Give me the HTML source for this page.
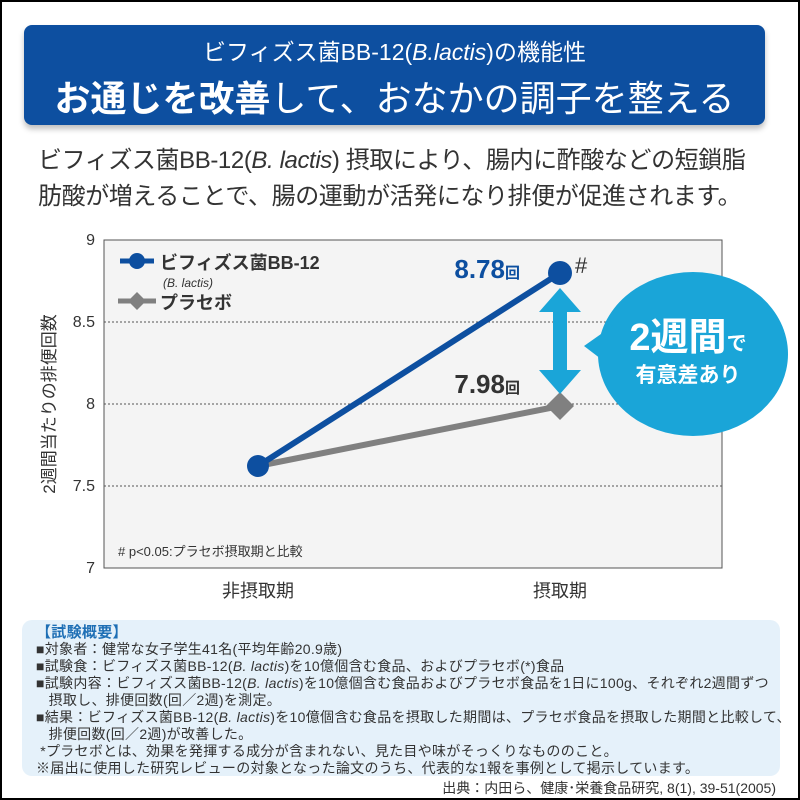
<!DOCTYPE html>
<html><head><meta charset="utf-8"><style>
body{margin:0;width:800px;height:800px;overflow:hidden;background:#fff;font-family:"Liberation Sans","Noto Sans CJK JP",sans-serif;}
.frame{position:absolute;left:0;top:0;width:796px;height:796px;border:2px solid #000;}
.hdr{position:absolute;left:24px;top:25px;width:741px;height:100px;background:#0d4fa0;border-radius:8px;box-shadow:0 4px 6px rgba(0,0,0,.25);color:#fff;text-align:center;}
.t1{position:absolute;top:8px;width:100%;font-size:23px;}
.t2{position:absolute;top:45px;width:100%;font-size:36px;}
.lead{position:absolute;left:38px;top:143px;font-size:24px;letter-spacing:-0.4px;color:#333;line-height:36px;white-space:nowrap;}
.note{position:absolute;left:22px;top:620px;width:758px;height:156px;background:#e5f1fa;border-radius:10px;}
.nt{position:absolute;left:36px;top:624px;font-size:14px;letter-spacing:0.3px;color:#333;line-height:17px;white-space:nowrap;}
.src{position:absolute;right:24px;top:778px;font-size:14px;color:#333;}
</style></head><body>
<div class="frame"></div>
<div class="hdr"><div class="t1">ビフィズス菌BB-12(<i>B.lactis</i>)の機能性</div>
<div class="t2"><b>お通じを改善</b>して、おなかの調子を整える</div></div>
<div class="lead">ビフィズス菌BB-12(<i>B. lactis</i>) 摂取により、腸内に酢酸などの短鎖脂<br>肪酸が増えることで、腸の運動が活発になり排便が促進されます。</div>
<svg width="800" height="800" style="position:absolute;left:0;top:0">
<rect x="104" y="240" width="618" height="328" fill="#f4f4f4" stroke="#555" stroke-width="1"/>
<g stroke="#555" stroke-dasharray="2,2" stroke-width="1">
<line x1="104" y1="322" x2="722" y2="322"/><line x1="104" y1="404" x2="722" y2="404"/><line x1="104" y1="486" x2="722" y2="486"/></g>
<g font-size="16" fill="#333" text-anchor="end">
<text x="95" y="245">9</text><text x="95" y="327">8.5</text><text x="95" y="409">8</text><text x="95" y="491">7.5</text><text x="95" y="573">7</text></g>
<text transform="translate(55,404) rotate(-90)" font-size="17" fill="#333" text-anchor="middle">2週間当たりの排便回数</text>
<text x="258" y="597" font-size="18" fill="#333" text-anchor="middle">非摂取期</text>
<text x="560" y="597" font-size="18" fill="#333" text-anchor="middle">摂取期</text>
<text x="118" y="556" font-size="13" fill="#333">#  p&lt;0.05:プラセボ摂取期と比較</text>
<line x1="258" y1="466" x2="560" y2="406" stroke="#808080" stroke-width="6"/>
<polygon points="560,392 574,406 560,420 546,406" fill="#808080"/>
<line x1="258" y1="466" x2="560" y2="273" stroke="#0d4fa0" stroke-width="6"/>
<circle cx="258" cy="466" r="11" fill="#0d4fa0"/><circle cx="560" cy="273" r="12" fill="#0d4fa0"/>
<text x="575" y="273" font-size="22" fill="#333">#</text>
<text x="520" y="278" font-size="26" font-weight="bold" fill="#0d4fa0" text-anchor="end">8.78<tspan font-size="15">回</tspan></text>
<text x="520" y="393" font-size="26" font-weight="bold" fill="#333" text-anchor="end">7.98<tspan font-size="15">回</tspan></text>
<line x1="120" y1="261" x2="154" y2="261" stroke="#0d4fa0" stroke-width="5"/><circle cx="137" cy="261" r="8" fill="#0d4fa0"/>
<text x="160" y="269" font-size="18" font-weight="bold" fill="#333">ビフィズス菌BB-12</text>
<text x="163" y="287" font-size="12" font-style="italic" fill="#333">(B. lactis)</text>
<line x1="118" y1="301" x2="156" y2="301" stroke="#808080" stroke-width="5"/><polygon points="137,292 146,301 137,310 128,301" fill="#808080"/>
<text x="160" y="309" font-size="18" font-weight="bold" fill="#333">プラセボ</text>
<g fill="#1aa5d8">
<rect x="553" y="306" width="14" height="70"/>
<polygon points="539,312 560,288 581,312"/><polygon points="539,370 560,394 581,370"/>
<ellipse cx="693" cy="354" rx="95" ry="82"/>
<polygon points="584,346 618,322 618,372"/></g>
<text x="688" y="350" font-size="38" font-weight="bold" fill="#fff" text-anchor="middle">2週間<tspan font-size="20">で</tspan></text>
<text x="688" y="382" font-size="21" font-weight="bold" fill="#fff" text-anchor="middle">有意差あり</text>
</svg>
<div class="note"></div>
<div class="nt"><span style="color:#1e6fb5;font-size:15px;font-weight:bold">【試験概要】</span><br>■対象者：健常な女子学生41名(平均年齢20.9歳)<br>■試験食：ビフィズス菌BB-12(<i>B. lactis</i>)を10億個含む食品、およびプラセボ(*)食品<br>■試験内容：ビフィズス菌BB-12(<i>B. lactis</i>)を10億個含む食品およびプラセボ食品を1日に100g、それぞれ2週間ずつ<br>&nbsp;&nbsp;&nbsp;摂取し、排便回数(回／2週)を測定。<br>■結果：ビフィズス菌BB-12(<i>B. lactis</i>)を10億個含む食品を摂取した期間は、プラセボ食品を摂取した期間と比較して、<br>&nbsp;&nbsp;&nbsp;排便回数(回／2週)が改善した。<br>&nbsp;*プラセボとは、効果を発揮する成分が含まれない、見た目や味がそっくりなもののこと。<br>※届出に使用した研究レビューの対象となった論文のうち、代表的な1報を事例として掲示しています。</div>
<div class="src">出典：内田ら、健康･栄養食品研究, 8(1), 39-51(2005)</div>
</body></html>
